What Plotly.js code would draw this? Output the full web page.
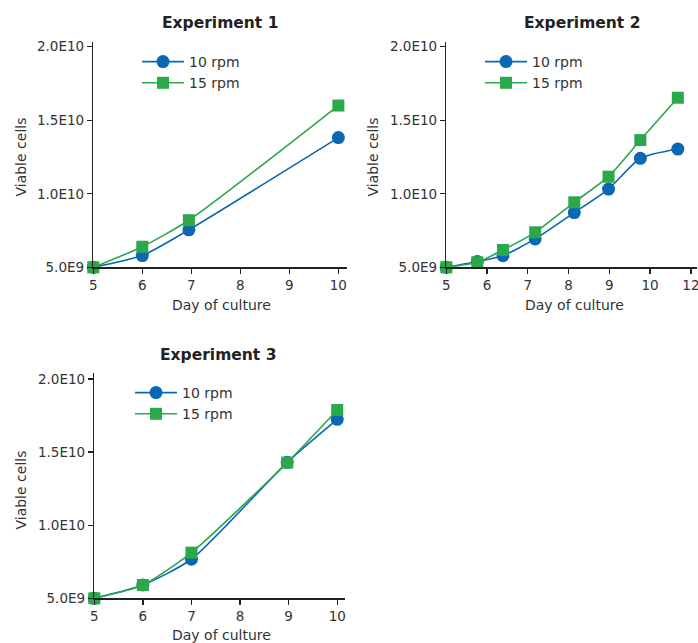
<!DOCTYPE html>
<html>
<head>
<meta charset="utf-8">
<script src="https://cdn.plot.ly/plotly-3.0.1.min.js"></script>
<style>html,body{margin:0;padding:0;background:#fff;}#chart{width:698px;height:643px;}</style>
</head>
<body>
<div id="chart"></div>
<script>
// ---- Data ----
var seriesNames = ['10 rpm', '15 rpm'];
var titles = ['Experiment 1', 'Experiment 2', 'Experiment 3'];
var xTitle = 'Day of culture';
var yTitle = 'Viable cells';

var days1 = [5, 6, 6.95, 10];
var cells1_10 = [5.0e9, 5.8e9, 7.55e9, 1.382e10];
var cells1_15 = [5.0e9, 6.4e9, 8.2e9, 1.6e10];

var days2 = [5, 5.76, 6.39, 7.18, 8.14, 8.98, 9.76, 10.68];
var cells2_10 = [5.0e9, 5.39e9, 5.79e9, 6.93e9, 8.72e9, 1.032e10, 1.241e10, 1.304e10];
var cells2_15 = [5.0e9, 5.34e9, 6.18e9, 7.38e9, 9.42e9, 1.116e10, 1.365e10, 1.653e10];

var days3 = [5, 6, 7, 8.97, 10];
var cells3_10 = [5.0e9, 5.91e9, 7.67e9, 1.43e10, 1.724e10];
var cells3_15 = [5.0e9, 5.91e9, 8.12e9, 1.428e10, 1.788e10];

var yTickVals = [5e9, 1e10, 1.5e10, 2e10];
var yTickText = ['5.0E9', '1.0E10', '1.5E10', '2.0E10'];
var xTickVals13 = [5, 6, 7, 8, 9, 10];
var xTickText13 = ['5', '6', '7', '8', '9', '10'];
var xTickVals2 = [5, 6, 7, 8, 9, 10, 11];
var xTickText2 = ['5', '6', '7', '8', '9', '10', '12'];

// ---- Styling ----
var BLUE = '#0a67b4';
var GREEN = '#2aa84a';
var FONT = 'DejaVu Sans, sans-serif';
var TXT = '#333333';

function mk(x, y, name, color, symbol, xa, ya, leg, size) {
  return {
    x: x, y: y, name: name, type: 'scatter', mode: 'lines+markers',
    xaxis: xa, yaxis: ya, legend: leg, cliponaxis: false,
    line: {color: color, width: 1.6, shape: 'spline', smoothing: 0.6},
    marker: {color: color, symbol: symbol, size: size}
  };
}

var traces = [
  mk(days1, cells1_10, seriesNames[0], BLUE, 'circle', 'x', 'y', 'legend', 13),
  mk(days1, cells1_15, seriesNames[1], GREEN, 'square', 'x', 'y', 'legend', 12),
  mk(days2, cells2_10, seriesNames[0], BLUE, 'circle', 'x2', 'y2', 'legend2', 13),
  mk(days2, cells2_15, seriesNames[1], GREEN, 'square', 'x2', 'y2', 'legend2', 12),
  mk(days3, cells3_10, seriesNames[0], BLUE, 'circle', 'x3', 'y3', 'legend3', 13),
  mk(days3, cells3_15, seriesNames[1], GREEN, 'square', 'x3', 'y3', 'legend3', 12)
];

function xax(domain, range, anchor, tv, tt) {
  return {
    domain: domain, range: range, anchor: anchor, showgrid: false, zeroline: false,
    showline: true, linecolor: '#222', linewidth: 1.5,
    ticks: 'outside', ticklen: 5, tickwidth: 1.3, tickcolor: '#222',
    tickvals: tv, ticktext: tt, tickfont: {family: FONT, size: 13.5, color: TXT},
    ticklabeloverflow: 'allow', fixedrange: true
  };
}
function yax(domain, range, anchor) {
  return {
    domain: domain, range: range, anchor: anchor, showgrid: false, zeroline: false,
    showline: true, linecolor: '#222', linewidth: 1.5,
    ticks: 'outside', ticklen: 5, tickwidth: 1.3, tickcolor: '#222',
    tickvals: yTickVals, ticktext: yTickText, tickfont: {family: FONT, size: 13.5, color: TXT},
    fixedrange: true
  };
}

var W = 698, H = 643;
function px(x) { return x / W; }
function py(y) { return 1 - y / H; }

function leg(x, y) {
  return {x: px(x), y: py(y), xanchor: 'left', yanchor: 'top', bgcolor: 'rgba(0,0,0,0)',
    font: {family: FONT, size: 14, color: TXT}, tracegroupgap: 0, itemclick: false,
    itemwidth: 42};
}

function ann(text, x, y, opts) {
  var a = {text: text, x: px(x), y: py(y), xref: 'paper', yref: 'paper', showarrow: false,
    xanchor: 'center', yanchor: 'middle', font: {family: FONT, size: 14, color: TXT}};
  for (var k in opts) a[k] = opts[k];
  return a;
}
var titleFont = {family: FONT, size: 15.5, color: '#222', weight: 'bold'};

var layout = {
  width: W, height: H,
  margin: {l: 0, r: 0, t: 0, b: 0},
  paper_bgcolor: '#fff', plot_bgcolor: '#fff',
  showlegend: true,
  xaxis: xax([px(93.3), px(346.7)], [5, 10.17], 'y', xTickVals13, xTickText13),
  yaxis: yax([py(267.3), py(41.7)], [5e9, 2.034e10], 'x'),
  xaxis2: xax([px(446.3), px(697)], [5, 11.15], 'y2', xTickVals2, xTickText2),
  yaxis2: yax([py(267.3), py(41.7)], [5e9, 2.034e10], 'x2'),
  xaxis3: xax([px(94.3), px(345)], [5, 10.16], 'y3', xTickVals13, xTickText13),
  yaxis3: yax([py(598.3), py(373.3)], [5e9, 2.039e10], 'x3'),
  legend: leg(137, 46),
  legend2: leg(480, 46),
  legend3: leg(130, 377),
  annotations: [
    ann('<b>' + titles[0] + '</b>', 220, 23, {font: titleFont}),
    ann('<b>' + titles[1] + '</b>', 582, 23, {font: titleFont}),
    ann('<b>' + titles[2] + '</b>', 218, 355, {font: titleFont}),
    ann(yTitle, 20.5, 157, {textangle: -90}),
    ann(yTitle, 372.5, 157, {textangle: -90}),
    ann(yTitle, 20.5, 490, {textangle: -90}),
    ann(xTitle, 222, 305),
    ann(xTitle, 574, 305),
    ann(xTitle, 222, 635)
  ]
};

Plotly.newPlot('chart', traces, layout, {displayModeBar: false, staticPlot: true});
</script>
</body>
</html>
